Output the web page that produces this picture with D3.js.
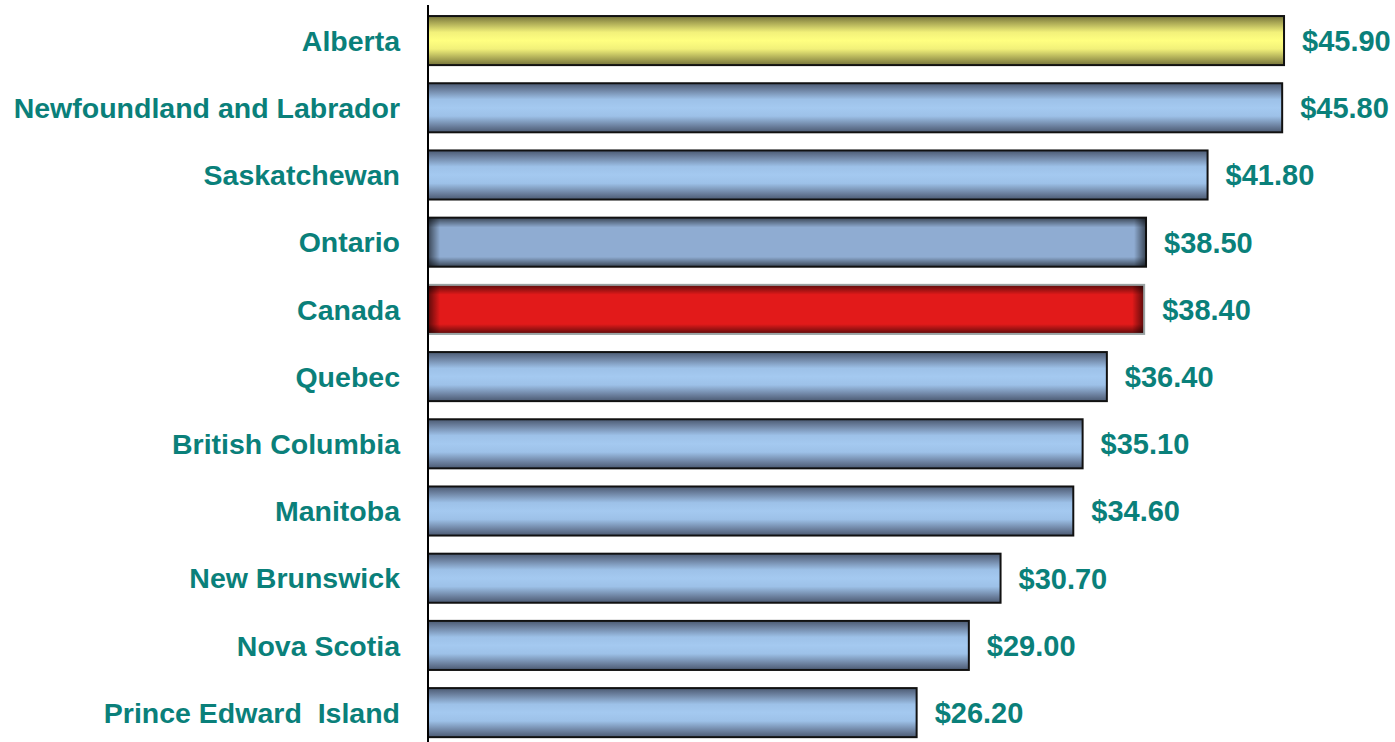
<!DOCTYPE html>
<meta charset="utf-8">
<style>
body { margin: 0; background: #fff; }
svg { display: block; }
.label, .value {
  font-family: "Liberation Sans", Arial, sans-serif;
  font-weight: bold;
  fill: #0a807a;
  white-space: pre;
}
</style>
<svg width="1395" height="742"></svg>
<script src="https://d3js.org/d3.v7.min.js"></script>
<script>
// provinces, top to bottom
var provinces = ["Alberta", "Newfoundland and Labrador", "Saskatchewan", "Ontario", "Canada",
  "Quebec", "British Columbia", "Manitoba", "New Brunswick", "Nova Scotia", "Prince Edward  Island"];
var values = [45.9, 45.8, 41.8, 38.5, 38.4, 36.4, 35.1, 34.6, 30.7, 29.0, 26.2];
var highlight = { "Alberta": "yellow", "Canada": "red", "Ontario": "flat" };

var data = provinces.map(function(p, i) { return { name: p, value: values[i] }; });

var svg = d3.select("svg"),
    width = +svg.attr("width"),
    height = +svg.attr("height");

var x0 = 428;
var x = d3.scaleLinear().domain([0, 50]).range([x0, x0 + 932.5]);
var y = d3.scaleBand().domain(provinces).range([2.6, 750.6])
    .paddingInner(0.27).paddingOuter(0.2);

var defs = svg.append("defs");

function grad(id, vertical, stops) {
  var g = defs.append("linearGradient").attr("id", id)
      .attr("x1", 0).attr("y1", 0)
      .attr("x2", vertical ? 0 : 1).attr("y2", vertical ? 1 : 0);
  stops.forEach(function(s) {
    g.append("stop").attr("offset", s[0]).attr("stop-color", s[1])
      .attr("stop-opacity", s[2] == null ? 1 : s[2]);
  });
}
grad("blue", true, [[0, "#4b5a72"], [0.12, "#6a7e9c"], [0.33, "#9dc1e8"], [0.5, "#a4c9f0"],
  [0.67, "#9dc1e8"], [0.88, "#6a7e9c"], [1, "#4b5a72"]]);
grad("yellow", true, [[0, "#75733a"], [0.12, "#a4a252"], [0.33, "#f2f17a"], [0.5, "#ffff80"],
  [0.67, "#f2f17a"], [0.88, "#a4a252"], [1, "#75733a"]]);
// edge shading for the flat bars
grad("shadeV", true, [[0, "#000", 0.6], [0.2, "#000", 0], [0.8, "#000", 0], [1, "#000", 0.6]]);
grad("shadeL", false, [[0, "#000", 0.6], [1, "#000", 0]]);
grad("shadeR", false, [[0, "#000", 0], [1, "#000", 0.6]]);

function fillFor(d) {
  var h = highlight[d.name];
  if (h === "yellow") return "url(#yellow)";
  if (h === "red") return "#e21a1a";
  if (h === "flat") return "#8facd2";
  return "url(#blue)";
}
function isFlat(d) { return highlight[d.name] === "flat" || highlight[d.name] === "red"; }

var bars = svg.append("g").selectAll("g")
  .data(data)
  .enter().append("g");

bars.append("rect")
    .attr("x", x(0))
    .attr("y", function(d) { return y(d.name); })
    .attr("width", function(d) { return x(d.value) - x(0); })
    .attr("height", y.bandwidth())
    .attr("fill", fillFor);

var flat = bars.filter(isFlat);
flat.append("rect")
    .attr("x", x(0))
    .attr("y", function(d) { return y(d.name); })
    .attr("width", function(d) { return x(d.value) - x(0); })
    .attr("height", y.bandwidth())
    .attr("fill", "url(#shadeV)");
flat.append("rect")
    .attr("x", x(0))
    .attr("y", function(d) { return y(d.name); })
    .attr("width", 12)
    .attr("height", y.bandwidth())
    .attr("fill", "url(#shadeL)");
flat.append("rect")
    .attr("x", function(d) { return x(d.value) - 12; })
    .attr("y", function(d) { return y(d.name); })
    .attr("width", 12)
    .attr("height", y.bandwidth())
    .attr("fill", "url(#shadeR)");

bars.append("rect")
    .attr("x", x(0))
    .attr("y", function(d) { return y(d.name); })
    .attr("width", function(d) { return x(d.value) - x(0); })
    .attr("height", y.bandwidth())
    .attr("fill", "none")
    .attr("stroke", function(d) { return highlight[d.name] === "red" ? "#9aa3a3" : "#111"; })
    .attr("stroke-width", 2);

// vertical axis line
svg.append("line")
    .attr("x1", x0).attr("x2", x0)
    .attr("y1", 5).attr("y2", height)
    .attr("stroke", "#000").attr("stroke-width", 2);

// category labels
svg.append("g").selectAll("text")
  .data(data)
  .enter().append("text")
    .attr("class", "label")
    .attr("x", 400)
    .attr("y", function(d) { return y(d.name) + y.bandwidth() / 2; })
    .attr("dy", "0.36em")
    .attr("text-anchor", "end")
    .style("font-size", "28.5px")
    .text(function(d) { return d.name; });

// value labels
svg.append("g").selectAll("text")
  .data(data)
  .enter().append("text")
    .attr("class", "value")
    .attr("x", function(d) { return x(d.value) + 18; })
    .attr("y", function(d) { return y(d.name) + y.bandwidth() / 2; })
    .attr("dy", "0.36em")
    .style("font-size", "29px")
    .text(function(d) { return "$" + d3.format(".2f")(d.value); });
</script>
